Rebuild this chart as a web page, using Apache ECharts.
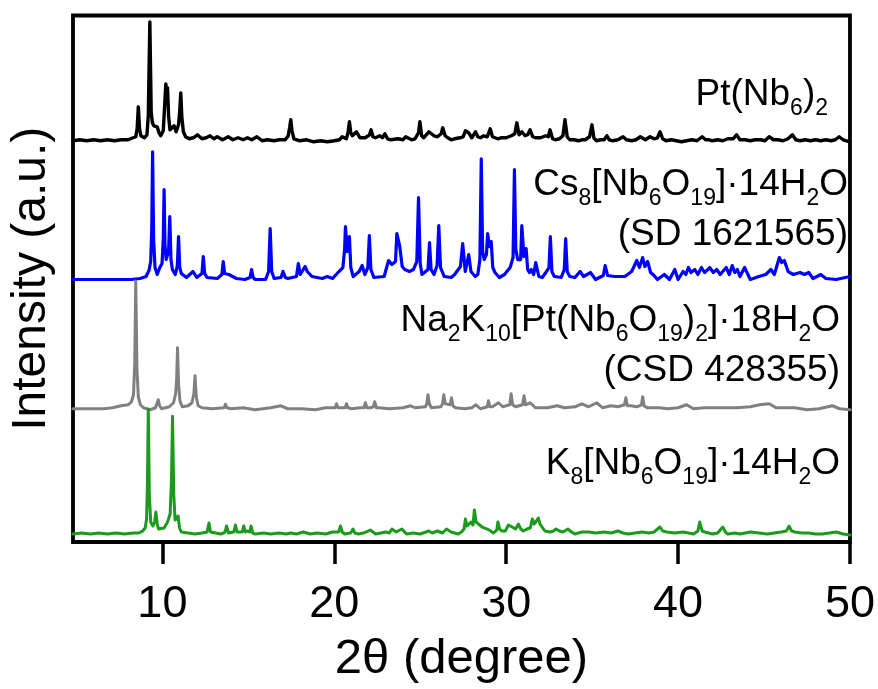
<!DOCTYPE html>
<html>
<head>
<meta charset="utf-8">
<script src="https://cdn.jsdelivr.net/npm/echarts@6/dist/echarts.min.js"></script>
<style>
  html, body { margin: 0; padding: 0; background: #ffffff; }
  #chart { width: 878px; height: 689px; }
</style>
</head>
<body>
<div id="chart"></div>
<script>
// Stacked powder XRD patterns, 2θ from 4.8° to 50°.
const FONT = '"Liberation Sans", Arial, Helvetica, sans-serif';

const xTickValues = [10, 20, 30, 40, 50];
const xAxisTitle = '2θ (degree)';
const yAxisTitle = 'Intensity (a.u.)';

const seriesNames = [
  'Pt(Nb6)2',
  'Cs8[Nb6O19]·14H2O (SD 1621565)',
  'Na2K10[Pt(Nb6O19)2]·18H2O (CSD 428355)',
  'K8[Nb6O19]·14H2O'
];
const seriesColors = ['#000000', '#0000ff', '#808080', '#1c9a1c'];
const seriesWidths = [3.4, 3.2, 3, 3];
// vertical offset of each pattern's baseline (stacking)
const baselineOffsets = [402, 263, 133.5, 8];

// [2θ, intensity above baseline]
const ptNb6Pattern = [
  [4.8,0],[5.2,1],[5.6,0],[6.0,1],[6.4,0],[6.8,1],[7.2,0],[7.6,1],[8.0,1],[8.3,3],[8.45,4],[8.53,12],[8.6,34],[8.67,12],
  [8.75,5],[8.95,3],[9.1,6],[9.18,25],[9.27,119],[9.35,28],[9.42,18],[9.5,15],[9.6,17],[9.7,14],[9.8,8],[9.9,5],[10.05,10],
  [10.14,38],[10.2,57],[10.25,50],[10.3,53],[10.36,25],[10.44,11],[10.55,10],[10.68,15],[10.8,9],[10.94,16],[11.01,30],
  [11.07,48],[11.13,24],[11.22,9],[11.35,4],[11.55,2],[11.8,3],[12.04,6],[12.3,2],[12.55,3],[12.77,5],[13.0,2],[13.19,4],
  [13.5,1],[13.83,4],[14.1,1],[14.4,3],[14.7,1],[14.95,3],[15.2,1],[15.5,4],[15.8,0],[16.1,1],[16.5,0],[16.8,1],[17.15,1],
  [17.32,5],[17.41,14],[17.47,21],[17.54,10],[17.65,2],[18.0,0],[18.4,1],[18.8,-1],[19.2,0],[19.6,-1],[20.0,0],[20.3,1],
  [20.46,4],[20.7,2],[20.8,8],[20.88,19],[20.96,8],[21.05,5],[21.29,9],[21.5,3],[21.8,3],[22.05,6],[22.14,11],[22.25,4],
  [22.4,3],[22.65,5],[22.8,3],[22.94,7],[23.1,2],[23.3,1],[23.7,2],[24.0,1],[24.15,4],[24.5,1],[24.7,2],[24.9,8],[24.98,19],
  [25.08,5],[25.2,3],[25.5,9],[25.8,5],[26.0,4],[26.22,7],[26.31,13],[26.45,5],[26.6,3],[26.8,1],[27.0,2],[27.3,3],[27.5,4],
  [27.63,10],[27.82,8],[28.0,3],[28.21,9],[28.35,4],[28.5,3],[28.7,5],[28.9,4],[29.07,12],[29.2,4],[29.35,3],[29.5,2],
  [29.7,3],[30.0,3],[30.3,5],[30.5,7],[30.62,18],[30.75,6],[30.91,9],[31.1,5],[31.25,6],[31.39,11],[31.55,4],[31.7,3],
  [32.0,3],[32.3,5],[32.45,4],[32.55,11],[32.7,2],[32.85,1],[33.1,2],[33.3,5],[33.42,21],[33.55,4],[33.7,1],[33.95,1],
  [34.2,0],[34.4,1],[34.6,1],[34.85,4],[34.99,16],[35.1,3],[35.25,0],[35.5,1],[35.7,1],[35.86,5],[36.0,1],[36.2,0],
  [36.5,1],[36.8,4],[37.0,1],[37.3,0],[37.55,1],[37.8,4],[38.1,1],[38.37,4],[38.6,2],[38.8,3],[38.95,9],[39.1,2],[39.3,0],
  [39.6,1],[39.9,0],[40.2,-1],[40.5,0],[40.8,1],[41.1,0],[41.4,4],[41.6,1],[41.8,1],[42.0,0],[42.3,1],[42.6,0],[42.9,2],
  [43.2,2],[43.4,6],[43.6,1],[43.9,1],[44.2,0],[44.5,1],[44.8,1],[45.05,0],[45.3,4],[45.55,1],[45.8,1],[46.1,0],[46.4,2],
  [46.65,6],[46.85,1],[47.1,0],[47.4,1],[47.7,0],[48.0,1],[48.3,0],[48.6,1],[48.9,0],[49.15,1],[49.37,4],[49.6,1],[49.8,0],
  [50.0,-1]
];

const csNb6Pattern = [
  [4.8,0],[8.2,0],[8.7,1],[9.05,3],[9.22,9],[9.32,18],[9.38,50],[9.43,128],[9.49,40],[9.57,12],[9.7,5],[9.85,12],[9.98,16],
  [10.05,40],[10.1,90],[10.15,35],[10.22,20],[10.28,18],[10.36,28],[10.43,63],[10.5,20],[10.58,10],[10.75,5],[10.87,14],
  [10.94,43],[11.01,12],[11.1,6],[11.4,2],[11.78,8],[12.0,2],[12.3,6],[12.38,23],[12.46,6],[12.6,2],[13.2,1],[13.46,5],
  [13.54,18],[13.62,6],[13.87,5],[14.3,1],[14.8,0],[15.1,2],[15.19,10],[15.28,2],[15.4,0],[16.0,0],[16.18,8],[16.27,51],
  [16.36,8],[16.5,1],[16.9,2],[17.02,8],[17.15,2],[17.3,1],[17.8,3],[17.91,16],[18.02,5],[18.1,5],[18.3,13],[18.43,8],
  [18.7,3],[19.3,1],[19.59,3],[19.9,1],[20.27,8],[20.5,12],[20.6,30],[20.65,53],[20.75,28],[20.88,43],[20.96,12],[21.1,3],
  [21.45,8],[21.62,14],[21.78,5],[21.95,12],[22.04,44],[22.13,10],[22.3,2],[22.9,3],[23.16,19],[23.35,15],[23.56,18],
  [23.64,46],[23.8,34],[23.95,13],[24.1,10],[24.37,8],[24.6,10],[24.8,18],[24.9,82],[25.0,16],[25.1,5],[25.45,10],
  [25.54,37],[25.63,10],[25.8,5],[25.98,14],[26.08,54],[26.18,12],[26.4,3],[26.8,2],[27.0,5],[27.34,13],[27.47,36],
  [27.62,8],[27.82,25],[27.95,8],[28.2,3],[28.35,5],[28.47,20],[28.55,121],[28.63,28],[28.72,20],[28.85,25],[28.92,46],
  [29.03,33],[29.13,38],[29.22,12],[29.35,7],[29.6,2],[29.9,5],[30.23,12],[30.4,22],[30.48,110],[30.56,30],[30.67,20],
  [30.84,20],[30.91,54],[31.03,23],[31.16,31],[31.25,10],[31.35,7],[31.46,10],[31.6,5],[31.72,17],[31.9,3],[32.1,2],
  [32.3,7],[32.49,12],[32.57,43],[32.66,8],[32.8,3],[33.2,2],[33.38,10],[33.46,41],[33.55,8],[33.7,3],[34.0,2],[34.3,8],
  [34.5,3],[34.9,7],[35.2,0],[35.65,4],[35.76,14],[35.9,4],[36.3,3],[36.9,3],[37.3,8],[37.6,19],[37.75,12],[37.94,22],
  [38.07,13],[38.23,18],[38.4,7],[38.6,4],[38.8,0],[39.2,5],[39.5,0],[39.81,10],[40.0,0],[40.29,8],[40.45,5],[40.6,12],
  [40.75,7],[40.97,10],[41.15,5],[41.36,12],[41.55,7],[41.84,12],[42.05,7],[42.25,10],[42.45,5],[42.8,12],[42.98,5],
  [43.15,14],[43.3,7],[43.45,10],[43.6,3],[43.87,12],[44.2,0],[44.7,3],[45.1,5],[45.4,10],[45.6,5],[45.89,22],[46.03,17],
  [46.18,19],[46.4,8],[46.7,5],[47.1,7],[47.35,5],[47.6,7],[47.85,1],[48.3,5],[48.6,1],[49.2,0],[50.0,3]
];

const naKPtPattern = [
  [4.8,0],[6.6,0],[7.1,1],[7.6,3],[8.0,4],[8.2,7],[8.32,14],[8.39,45],[8.45,128],[8.52,40],[8.6,12],[8.72,4],[8.9,1],
  [9.3,-1],[9.6,1],[9.69,3],[9.76,9],[9.84,3],[9.95,0],[10.4,2],[10.65,6],[10.77,15],[10.83,30],[10.88,61],[10.94,25],
  [11.02,8],[11.15,2],[11.5,3],[11.72,6],[11.83,15],[11.9,33],[11.97,12],[12.08,3],[12.3,1],[12.9,0],[13.6,1],[13.67,4.5],
  [13.75,1],[14.0,0],[14.7,1],[15.4,-1],[16.3,1],[16.89,3],[17.3,0],[18.1,0],[18.9,-1],[19.5,1],[20.05,1],[20.13,5],
  [20.22,1],[20.4,1],[20.64,1],[20.71,5],[20.8,1],[21.0,0],[21.5,1],[21.73,1],[21.81,6],[21.9,1],[22.1,1],[22.27,2],
  [22.35,7],[22.45,1],[22.6,1],[23.2,0],[24.0,1],[24.44,3],[24.7,1],[25.3,2],[25.38,5],[25.45,14],[25.53,5],[25.65,1],
  [26.2,2],[26.3,5],[26.37,14],[26.45,5],[26.55,5],[26.75,4],[26.82,11],[26.9,3],[27.05,1],[27.6,0],[28.0,1],[28.24,4],
  [28.5,0],[28.9,2],[28.97,8],[29.05,2],[29.2,2],[29.55,6],[29.8,2],[30.2,4],[30.29,15],[30.37,4],[30.55,2],[30.95,4],
  [31.04,13],[31.12,4],[31.2,4],[31.4,6],[31.7,1],[32.4,1],[32.96,3],[33.4,1],[34.0,2],[34.41,5],[34.8,2],[35.28,6],
  [35.6,1],[36.1,3],[36.5,2],[36.88,4],[36.96,11],[37.05,3],[37.25,3],[37.6,2],[37.87,4],[37.94,12],[38.02,3],[38.2,1],
  [38.9,1],[39.4,0],[40.0,1],[40.49,4],[40.9,0],[41.5,1],[42.3,1],[43.4,1],[44.2,2],[44.74,4],[45.3,5],[45.7,1],[46.0,1],
  [46.8,1],[47.5,-1],[48.2,0],[48.98,3],[49.4,0],[50.0,-1]
];

const kNb6Pattern = [
  [4.8,0],[5.3,1],[5.8,0],[6.3,1],[6.8,0],[7.3,1],[7.8,0],[8.3,1],[8.6,1],[8.85,3],[9.0,6],[9.08,15],[9.13,50],[9.18,125],
  [9.24,40],[9.32,12],[9.45,8],[9.55,12],[9.62,22],[9.7,10],[9.78,5],[10.1,6],[10.3,12],[10.45,20],[10.53,55],[10.59,118],
  [10.66,40],[10.74,14],[10.82,12],[10.91,18],[11.0,6],[11.1,2],[11.5,1],[11.9,0],[12.3,1],[12.6,2],[12.71,11],[12.8,2],
  [12.9,0],[13.4,0],[13.65,2],[13.73,8],[13.85,1],[13.95,0],[14.15,2],[14.25,9],[14.35,2],[14.45,2],[14.65,2],[14.73,8],
  [14.83,2],[14.95,3],[15.08,2],[15.16,8],[15.26,1],[15.4,0],[15.9,1],[16.3,0],[16.8,1],[17.2,0],[17.47,1],[17.8,0],
  [18.2,2],[18.6,0],[19.0,1],[19.5,0],[19.9,2],[20.25,2],[20.36,8],[20.46,2],[20.6,0],[20.95,1],[21.09,5],[21.2,1],
  [21.4,0],[21.7,1],[22.1,4],[22.4,0],[22.7,1],[23.0,2],[23.2,1],[23.35,5],[23.6,2],[23.93,5],[24.2,0],[24.6,1],[25.0,0],
  [25.5,3],[25.7,1],[26.0,3],[26.3,1],[26.53,5],[26.8,2],[27.2,0],[27.4,2],[27.55,5],[27.63,15],[27.72,8],[27.8,10],
  [27.95,12],[28.07,9],[28.15,24],[28.25,12],[28.35,10],[28.6,7],[28.9,5],[29.1,3],[29.25,1],[29.45,4],[29.52,12],
  [29.62,5],[29.75,3],[29.95,3],[30.13,9],[30.35,7],[30.55,5],[30.71,10],[30.85,5],[31.0,3],[31.2,5],[31.4,6],[31.52,15],
  [31.63,10],[31.7,12],[31.87,16],[31.97,10],[32.05,8],[32.25,3],[32.55,2],[32.75,3],[32.9,5],[33.1,3],[33.3,2],[33.6,5],
  [33.8,2],[34.0,0],[34.4,2],[34.8,2],[35.2,1],[35.7,2],[36.1,1],[36.5,3],[36.8,1],[37.1,0],[37.5,1],[37.9,2],[38.3,1],
  [38.6,2],[38.95,7],[39.1,3],[39.35,2],[39.8,1],[40.3,2],[40.6,1],[40.9,0],[41.15,3],[41.26,12],[41.4,3],[41.55,2],
  [42.0,0],[42.3,1],[42.6,7],[42.75,2],[42.9,0],[43.3,1],[43.6,0],[43.9,1],[44.2,2],[44.7,1],[45.2,0],[45.6,1],[46.0,2],
  [46.3,3],[46.46,8],[46.6,3],[46.8,2],[47.2,1],[47.6,1],[48.0,0],[48.4,0],[48.8,1],[49.2,2],[49.6,0],[50.0,-1]
];

const patterns = [ptNb6Pattern, csNb6Pattern, naKPtPattern, kNb6Pattern];

// Formula labels (rich text: {s|...} marks subscripts)
const labelLines = [
  { text: 'Pt(Nb{s|6}){s|2}', right: 828, y: 95 },
  { text: 'Cs{s|8}[Nb{s|6}O{s|19}]·14H{s|2}O', right: 848, y: 185 },
  { text: '(SD 1621565)', right: 848, y: 235 },
  { text: 'Na{s|2}K{s|10}[Pt(Nb{s|6}O{s|19}){s|2}]·18H{s|2}O', right: 840, y: 321 },
  { text: '(CSD 428355)', right: 840, y: 371 },
  { text: 'K{s|8}[Nb{s|6}O{s|19}]·14H{s|2}O', right: 840, y: 464 }
];

const chart = echarts.init(document.getElementById('chart'), null, { renderer: 'canvas' });

const series = patterns.map((pts, i) => ({
  name: seriesNames[i],
  type: 'line',
  showSymbol: false,
  symbol: 'none',
  smooth: false,
  silent: true,
  clip: true,
  data: pts.map(p => [p[0], p[1] + baselineOffsets[i]]),
  lineStyle: { color: seriesColors[i], width: seriesWidths[i], join: 'round', cap: 'round' },
  z: 2 + i
}));

const graphic = labelLines.map(l => ({
  type: 'text',
  x: l.right,
  y: l.y,
  z: 10,
  style: {
    text: l.text,
    fontFamily: FONT,
    fontSize: 37,
    lineHeight: 51,
    fill: '#000',
    align: 'right',
    verticalAlign: 'middle',
    rich: {
      s: { fontFamily: FONT, fontSize: 23, lineHeight: 14, verticalAlign: 'bottom', fill: '#000' }
    }
  }
}));

chart.setOption({
  animation: false,
  backgroundColor: '#ffffff',
  grid: {
    left: 72, right: 28, top: 15.5, bottom: 146,
    show: true, borderColor: '#000', borderWidth: 3.8, backgroundColor: 'transparent',
    containLabel: false
  },
  xAxis: {
    type: 'value',
    min: 4.8,
    max: 50,
    axisLine: { show: false },
    splitLine: { show: false },
    axisTick: {
      show: true, inside: false, length: 22,
      customValues: xTickValues,
      lineStyle: { color: '#000', width: 3.5 }
    },
    axisLabel: {
      customValues: xTickValues,
      color: '#000', fontFamily: FONT, fontSize: 45, lineHeight: 46, margin: 40
    },
    name: xAxisTitle,
    nameLocation: 'middle',
    nameGap: 93,
    nameTextStyle: { color: '#000', fontFamily: FONT, fontSize: 49, lineHeight: 49 }
  },
  yAxis: {
    type: 'value',
    min: 0,
    max: 527.5,
    axisLine: { show: false },
    axisTick: { show: false },
    axisLabel: { show: false },
    splitLine: { show: false },
    name: yAxisTitle,
    nameLocation: 'middle',
    nameRotate: 90,
    nameGap: 17,
    nameTextStyle: { color: '#000', fontFamily: FONT, fontSize: 48, lineHeight: 48 }
  },
  series: series,
  graphic: graphic
});
</script>
</body>
</html>
